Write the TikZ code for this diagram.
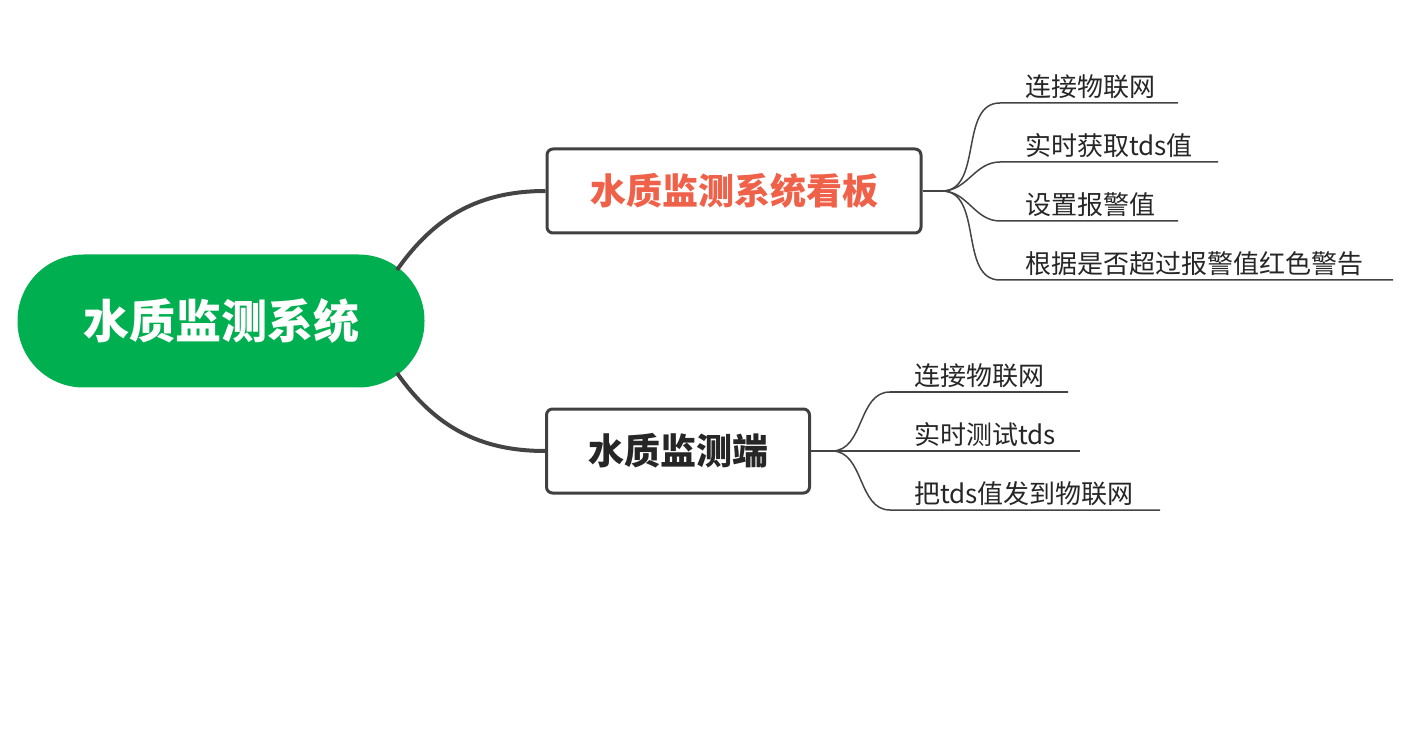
\documentclass[tikz,border=0pt]{standalone}
\usepackage{fontspec}
\setmainfont{Noto Sans CJK SC}
\usetikzlibrary{positioning}
\definecolor{rootGreen}{HTML}{00AF50}
\definecolor{boxGray}{HTML}{404040}
\definecolor{titleRed}{HTML}{F0614A}
\definecolor{lineGray}{HTML}{444444}
\tikzset{
  rootNode/.style={rounded corners=66pt, fill=rootGreen, minimum width=407pt, minimum height=133pt, text=white, font=\fontsize{46}{50}\selectfont\bfseries},
  branchNode/.style={rectangle, rounded corners=6pt, draw=boxGray, line width=3pt, fill=white, minimum height=84pt, font=\fontsize{36}{40}\selectfont\bfseries},
  leafNode/.style={anchor=south west, inner xsep=0pt, inner ysep=4pt, font=\fontsize{26}{30}\selectfont, text=black!85},
  mainEdge/.style={line width=4pt, color=lineGray},
  leafEdge/.style={line width=1.5pt, color=lineGray}
}
\begin{document}
\begin{tikzpicture}[x=1pt,y=-1pt]
	\useasboundingbox (0,0) rectangle (1425,735);
	\node[rootNode](root) at (221,321){水质监测系统};
	\node[branchNode, minimum width=374pt, text=titleRed](board) at (734,191){水质监测系统看板};
	\node[branchNode, minimum width=263pt, text=black!85](sensor) at (678,451){水质监测端};
	
	% draw main edges
	\draw[mainEdge] (397,270) to[out=-55+110,in=180] (board.west);
	\draw[mainEdge] (397,373) to[out=-55,in=180] (sensor.west);
	
	% board leaves
	\coordinate (boardHub) at (942,191);
	\draw[leafEdge] (board.east) -- (boardHub);
	\foreach \y/\len/\txt [count=\i] in {103/178/连接物联网, 162/218/实时获取tds值, 221/178/设置报警值, 280/393/根据是否超过报警值红色警告}{
		\coordinate (bStart\i) at (1000,\y);
		\coordinate (bEnd\i) at (\len+1000,\y);
		\node[leafNode](bLeaf\i) at (1025,\y){\txt};
		\draw[leafEdge] (boardHub) to[out=0,in=180] (bStart\i) -- (bEnd\i);
	}
	
	% sensor leaves
	\coordinate (sensorHub) at (832,451);
	\draw[leafEdge] (sensor.east) -- (sensorHub);
	\foreach \y/\len/\txt [count=\i] in {392/178/连接物联网, 451/190/实时测试tds, 510/270/把tds值发到物联网}{
		\coordinate (sStart\i) at (890,\y);
		\coordinate (sEnd\i) at (\len+890,\y);
		\node[leafNode](sLeaf\i) at (914,\y){\txt};
		\draw[leafEdge] (sensorHub) to[out=0,in=180] (sStart\i) -- (sEnd\i);
	}
\end{tikzpicture}
\end{document}
